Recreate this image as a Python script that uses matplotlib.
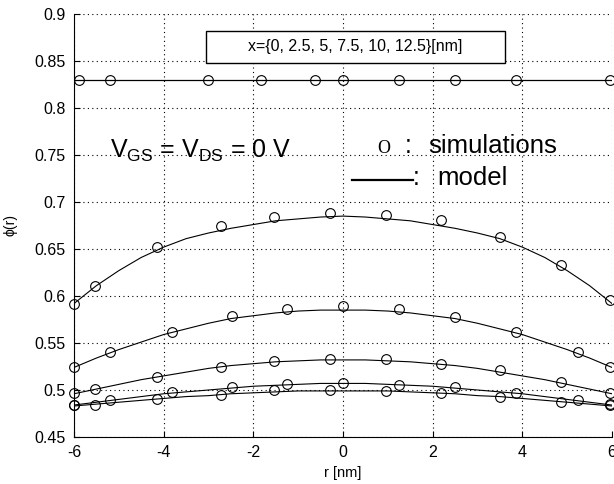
import matplotlib
matplotlib.use('Agg')
import matplotlib.pyplot as plt
from matplotlib.patches import Rectangle

plt.rcParams['font.family'] = ['Liberation Sans', 'DejaVu Sans']
plt.rcParams['mathtext.fontset'] = 'custom'
plt.rcParams['mathtext.rm'] = 'Liberation Sans'
plt.rcParams['mathtext.it'] = 'Liberation Sans:italic'
plt.rcParams['axes.unicode_minus'] = False

# radial positions of the simulation nodes (three different meshes)
r_sim_top = [-5.88, -5.2, -3.01, -1.83, -0.63, 0, 1.25, 2.5, 3.86, 5.96]
r_sim_a = [-6, -5.2, -3.81, -2.47, -1.24, 0, 1.25, 2.5, 3.86, 5.25, 5.96]
r_sim_b = [-6, -5.53, -4.14, -2.72, -1.54, -0.29, 0.96, 2.18, 3.5, 4.87, 5.96]

# simulated potential
sim_top = [0.830, 0.830, 0.830, 0.830, 0.830, 0.830, 0.830, 0.830, 0.830, 0.830]
sim_1 = [0.5915, 0.611, 0.652, 0.674, 0.684, 0.688, 0.686, 0.681, 0.663, 0.633, 0.596]
sim_2 = [0.524, 0.540, 0.562, 0.579, 0.586, 0.589, 0.586, 0.578, 0.562, 0.540, 0.525]
sim_3 = [0.4965, 0.501, 0.514, 0.525, 0.531, 0.533, 0.533, 0.528, 0.521, 0.508, 0.497]
sim_4 = [0.484, 0.489, 0.498, 0.503, 0.506, 0.507, 0.505, 0.503, 0.497, 0.489, 0.485]
sim_5 = [0.484, 0.484, 0.490, 0.495, 0.500, 0.500, 0.499, 0.497, 0.493, 0.487, 0.484]

# model curves
r_model_top = [-6, 6]
model_top = [0.830, 0.830]
r_model = [-6, -5.5, -5, -4.5, -4, -3.5, -3, -2.5, -2, -1.5, -1, -0.5, 0,
           0.5, 1, 1.5, 2, 2.5, 3, 3.5, 4, 4.5, 5, 5.5, 6]
model_1 = [0.592, 0.611, 0.627, 0.641, 0.652, 0.661, 0.667, 0.672, 0.676, 0.680, 0.682, 0.684, 0.685,
           0.684, 0.682, 0.680, 0.676, 0.672, 0.667, 0.661, 0.652, 0.641, 0.627, 0.611, 0.592]
model_2 = [0.524, 0.534, 0.543, 0.551, 0.559, 0.565, 0.571, 0.576, 0.579, 0.582, 0.584, 0.585, 0.585,
           0.585, 0.584, 0.582, 0.579, 0.576, 0.571, 0.565, 0.559, 0.551, 0.543, 0.534, 0.524]
model_3 = [0.496, 0.501, 0.506, 0.511, 0.515, 0.519, 0.523, 0.526, 0.528, 0.530, 0.531, 0.532, 0.532,
           0.532, 0.531, 0.530, 0.528, 0.526, 0.523, 0.519, 0.515, 0.511, 0.506, 0.501, 0.496]
model_4 = [0.484, 0.487, 0.490, 0.493, 0.496, 0.498, 0.500, 0.502, 0.504, 0.505, 0.506, 0.507, 0.507,
           0.507, 0.506, 0.505, 0.504, 0.502, 0.500, 0.498, 0.496, 0.493, 0.490, 0.487, 0.484]
model_5 = [0.483, 0.485, 0.487, 0.489, 0.491, 0.493, 0.494, 0.496, 0.497, 0.498, 0.499, 0.499, 0.499,
           0.499, 0.499, 0.498, 0.497, 0.496, 0.494, 0.493, 0.491, 0.489, 0.487, 0.485, 0.483]

x_ticks = [-6, -4, -2, 0, 2, 4, 6]
y_ticks = [0.45, 0.5, 0.55, 0.6, 0.65, 0.7, 0.75, 0.8, 0.85, 0.9]

fig = plt.figure(figsize=(6.14, 4.84), dpi=100)
ax = fig.add_axes([0.1205, 0.0971, 0.8762, 0.874])

ax.plot(r_model_top, model_top, color='black', lw=0.9)
for curve in [model_1, model_2, model_3, model_4, model_5]:
    ax.plot(r_model, curve, color='black', lw=0.8)

sims = [(r_sim_top, sim_top), (r_sim_b, sim_1), (r_sim_a, sim_2),
        (r_sim_b, sim_3), (r_sim_a, sim_4), (r_sim_b, sim_5)]
for rs, vals in sims:
    ax.plot(rs, vals, linestyle='none', marker='o', markersize=7,
            markerfacecolor='none', markeredgecolor='black', markeredgewidth=0.8,
            clip_on=False, zorder=4)

ax.set_xlim(-6, 6)
ax.set_ylim(0.45, 0.9)
ax.set_xticks(x_ticks)
ax.set_yticks(y_ticks)
ax.set_yticklabels(['%g' % v for v in y_ticks])
ax.tick_params(direction='in', length=4, width=0.8, labelsize=11.5, pad=6)
ax.grid(True, color='black', linestyle=(0, (1, 3)), linewidth=0.8)
ax.spines['top'].set_visible(False)
ax.spines['right'].set_visible(False)
ax.set_xlabel('r [nm]', fontsize=10.5, labelpad=4)
ax.set_ylabel('ϕ(r)', fontsize=10, labelpad=12)

# label box at the top
ax.add_patch(Rectangle((-3.06, 0.848), 6.68, 0.034, facecolor='white',
                       edgecolor='black', linewidth=1.0, zorder=5))
ax.text(0.28, 0.865, 'x={0, 2.5, 5, 7.5, 10, 12.5}[nm]', fontsize=11.5,
        ha='center', va='center', zorder=6)

ax.text(-5.2, 0.747, r'V$_{\mathrm{GS}}$ = V$_{\mathrm{DS}}$ = 0 V', fontsize=18,
        ha='left', va='baseline')

ax.text(0.76, 0.752, 'O', fontsize=13, family='Liberation Serif',
        ha='left', va='baseline')
ax.text(1.38, 0.752, ':', fontsize=18, ha='left', va='baseline')
ax.text(1.9, 0.752, 'simulations', fontsize=18.5, ha='left', va='baseline')
ax.plot([0.2, 1.56], [0.7234, 0.7234], color='black', lw=1.6)
ax.text(1.56, 0.718, ':', fontsize=18, ha='left', va='baseline')
ax.text(2.1, 0.718, 'model', fontsize=18.5, ha='left', va='baseline')

fig.savefig('out.png', dpi=100, facecolor='white')
